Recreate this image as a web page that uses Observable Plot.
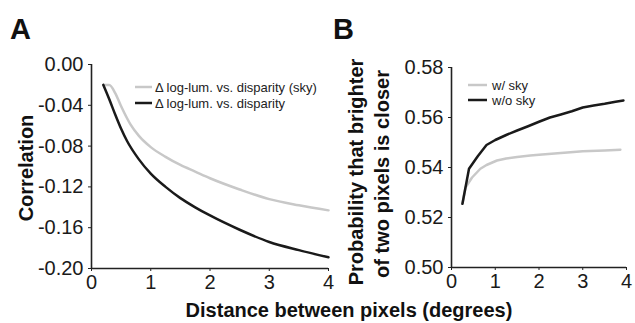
<!DOCTYPE html>
<html>
<head>
<meta charset="utf-8">
<script src="https://cdn.jsdelivr.net/npm/d3@7"></script>
<script src="https://cdn.jsdelivr.net/npm/@observablehq/plot@0.6"></script>
<style>
  body { margin: 0; background: #fff; }
  #wrap { position: relative; width: 635px; height: 323px; font-family: "Liberation Sans", Arial, sans-serif; }
  #wrap > svg, #wrap > div { position: absolute; top: 0; }
</style>
</head>
<body>
<div id="wrap"></div>
<script>
// ---- Panel A data: correlation vs distance ----
const distA_sky = [0.2, 0.3, 0.4, 0.5, 0.66, 0.8, 1.0, 1.25, 1.5, 1.75, 2.0, 2.5, 3.0, 3.5, 4.0];
const corrA_sky = [-0.02, -0.02, -0.028, -0.041, -0.059, -0.070, -0.081, -0.0905, -0.0985, -0.105, -0.1115, -0.1225, -0.132, -0.138, -0.143];
const distA = [0.2, 0.3, 0.4, 0.5, 0.6, 0.8, 1.0, 1.25, 1.5, 1.75, 2.0, 2.5, 3.0, 3.5, 4.0];
const corrA = [-0.02, -0.034, -0.049, -0.063, -0.075, -0.093, -0.107, -0.12, -0.131, -0.14, -0.148, -0.162, -0.174, -0.182, -0.189];
const yTicksA = [0, -0.04, -0.08, -0.12, -0.16, -0.2];
const xTicks = [0, 1, 2, 3, 4];
const seriesA = ["Δ log-lum. vs. disparity (sky)", "Δ log-lum. vs. disparity"];

// ---- Panel B data: probability brighter pixel is closer ----
const distB_sky = [0.25, 0.32, 0.47, 0.66, 0.8, 1.04, 1.25, 1.5, 1.8, 2.0, 2.5, 2.72, 3.0, 3.5, 3.86];
const probB_sky = [0.5255, 0.532, 0.536, 0.5395, 0.541, 0.5428, 0.5436, 0.5442, 0.5448, 0.5451, 0.5458, 0.5461, 0.5465, 0.5468, 0.5471];
const distB = [0.25, 0.4, 0.6, 0.8, 1.0, 1.25, 1.5, 1.75, 2.0, 2.25, 2.5, 2.75, 3.0, 3.25, 3.5, 3.75, 3.93];
const probB = [0.5255, 0.5395, 0.5445, 0.549, 0.551, 0.553, 0.5548, 0.5565, 0.5583, 0.56, 0.5612, 0.5625, 0.564, 0.5648, 0.5655, 0.5663, 0.5668];
const yTicksB = [0.5, 0.52, 0.54, 0.56, 0.58];
const seriesB = ["w/ sky", "w/o sky"];

const GRAY = "#c8c8c8", BLACK = "#1a1a1a", AXIS = "#222";
const FONT = "Liberation Sans, Arial, sans-serif";

const zipPts = (xs, ys) => xs.map((x, i) => ({x, y: ys[i]}));

function panel({width, left, right, top, bottom, yDomain, yTicks, series, curve}) {
  return Plot.plot({
    width, height: 323,
    marginLeft: left, marginRight: right, marginTop: top, marginBottom: bottom,
    style: {fontFamily: FONT, fontSize: "20px", color: AXIS, background: "transparent"},
    x: {domain: [0, 4]},
    y: {domain: yDomain},
    marks: [
      Plot.axisX({ticks: xTicks, tickFormat: d => String(d), tickSize: 3, tickPadding: 3, fontSize: 20, label: null, fill: "#1a1a1a"}),
      Plot.axisY({ticks: yTicks, tickFormat: d => d.toFixed(2), tickSize: 3, tickPadding: 5, fontSize: 20, label: null, fill: "#1a1a1a"}),
      Plot.ruleX([0], {y1: yDomain[0], y2: yDomain[1], stroke: AXIS, strokeWidth: 1.6}),
      Plot.ruleY([yDomain[0]], {x1: 0, x2: 4, stroke: AXIS, strokeWidth: 1.6}),
      Plot.line(series[0], {x: "x", y: "y", stroke: GRAY, strokeWidth: 2.5, curve}),
      Plot.line(series[1], {x: "x", y: "y", stroke: BLACK, strokeWidth: 2.5, curve})
    ]
  });
}

const wrap = document.getElementById("wrap");

const plotA = panel({
  width: 340, left: 91, right: 12, top: 64, bottom: 55,
  yDomain: [-0.2, 0], yTicks: yTicksA,
  series: [zipPts(distA_sky, corrA_sky), zipPts(distA, corrA)],
  curve: "monotone-x"
});
plotA.style.left = "0px";
wrap.appendChild(plotA);

const plotB = panel({
  width: 295, left: 111, right: 9, top: 67, bottom: 56,
  yDomain: [0.5, 0.58], yTicks: yTicksB,
  series: [zipPts(distB_sky, probB_sky), zipPts(distB, probB)],
  curve: "linear"
});
plotB.style.left = "340px";
wrap.appendChild(plotB);

// Overlay: panel letters, axis titles, legends (real text)
const ns = "http://www.w3.org/2000/svg";
const ov = document.createElementNS(ns, "svg");
ov.setAttribute("width", 635); ov.setAttribute("height", 323);
ov.style.left = "0px";
ov.setAttribute("font-family", FONT);
function txt(s, attrs) {
  const t = document.createElementNS(ns, "text");
  for (const k in attrs) t.setAttribute(k, attrs[k]);
  t.textContent = s;
  ov.appendChild(t);
}
function sw(x1, x2, y, color) {
  const l = document.createElementNS(ns, "line");
  l.setAttribute("x1", x1); l.setAttribute("x2", x2);
  l.setAttribute("y1", y); l.setAttribute("y2", y);
  l.setAttribute("stroke", color); l.setAttribute("stroke-width", 2.5);
  ov.appendChild(l);
}
txt("A", {x: 10, y: 39, "font-size": 29, "font-weight": "bold", fill: "#111"});
txt("B", {x: 333, y: 39, "font-size": 29, "font-weight": "bold", fill: "#111"});
txt("Distance between pixels (degrees)", {x: 349, y: 317, "font-size": 20, "font-weight": "bold", "text-anchor": "middle", fill: "#111"});
txt("Correlation", {transform: "translate(33,168) rotate(-90)", "font-size": 20, "font-weight": "bold", "text-anchor": "middle", fill: "#111"});
txt("Probability that brighter", {transform: "translate(363,172) rotate(-90)", "font-size": 20, "font-weight": "bold", "text-anchor": "middle", fill: "#111"});
txt("of two pixels is closer", {transform: "translate(389,174) rotate(-90)", "font-size": 20, "font-weight": "bold", "text-anchor": "middle", fill: "#111"});

// Legend A
sw(135, 152, 87, GRAY); sw(135, 152, 103, BLACK);
txt(seriesA[0], {x: 155, y: 92, "font-size": 13, fill: "#222"});
txt(seriesA[1], {x: 155, y: 108, "font-size": 13, fill: "#222"});
// Legend B
sw(468, 487, 85, GRAY); sw(468, 487, 100, BLACK);
txt(seriesB[0], {x: 492, y: 90, "font-size": 13, fill: "#222"});
txt(seriesB[1], {x: 492, y: 105, "font-size": 13, fill: "#222"});

wrap.appendChild(ov);
</script>
</body>
</html>
